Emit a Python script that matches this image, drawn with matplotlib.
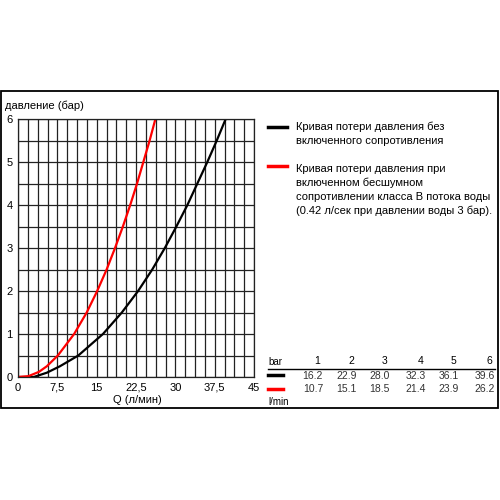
import matplotlib.pyplot as plt
from matplotlib.lines import Line2D
from matplotlib.patches import Rectangle

plt.rcParams['font.family'] = ['Liberation Sans', 'DejaVu Sans']

# values (Q in l/min, p in bar)
q_black = [0, 3.0, 5.5, 8.0, 11.5, 16.2, 19.8, 22.9, 25.6, 28.0, 30.2, 32.3, 34.2, 36.1, 37.9, 39.6]
p_black = [0, 0.0, 0.1, 0.25, 0.5, 1.0, 1.5, 2.0, 2.5, 3.0, 3.5, 4.0, 4.5, 5.0, 5.5, 6.0]
q_red = [0, 2.0, 4.0, 5.5, 7.6, 10.7, 13.1, 15.1, 16.9, 18.5, 20.0, 21.4, 22.7, 23.9, 25.1, 26.2]
p_red = [0, 0.02, 0.12, 0.25, 0.5, 1.0, 1.5, 2.0, 2.5, 3.0, 3.5, 4.0, 4.5, 5.0, 5.5, 6.0]

bars = ['1', '2', '3', '4', '5', '6']
flow_black = ['16.2', '22.9', '28.0', '32.3', '36.1', '39.6']
flow_red = ['10.7', '15.1', '18.5', '21.4', '23.9', '26.2']

xticks = [0, 7.5, 15, 22.5, 30, 37.5, 45]
xlabels = ['0', '7,5', '15', '22,5', '30', '37,5', '45']

W = H = 500.0
def fx(x):
    return x / W
def fy(y):
    return 1 - y / H

fig = plt.figure(figsize=(5, 5), dpi=100)
ax = fig.add_axes([fx(18), fy(377), (254 - 18) / W, (377 - 119) / H])

ax.plot(q_black, p_black, color='black', lw=1.6)
ax.plot(q_red, p_red, color='#ff0000', lw=1.6)

ax.set_xlim(0, 45)
ax.set_ylim(0, 6)
for i in range(25):
    ax.axvline(i * 1.875, color='#222222', lw=0.9, zorder=0)
for i in range(13):
    ax.axhline(i * 0.5, color='#222222', lw=0.9, zorder=0)
for s in ax.spines.values():
    s.set_color('#222222')
    s.set_linewidth(0.9)
ax.set_xticks(xticks)
ax.set_xticklabels(xlabels)
ax.set_yticks(range(7))
ax.tick_params(length=0, labelsize=8, pad=4)

fig.text(fx(5), fy(106), 'давление (бар)', fontsize=8, va='center')
fig.text(fx(137), fy(400), 'Q (л/мин)', fontsize=8, va='center', ha='center')

# outer frame
fig.add_artist(Rectangle((fx(1), fy(408)), fx(497), (408 - 91) / H,
                         fill=False, ec='black', lw=1.3, transform=fig.transFigure))

# legend
fig.add_artist(Line2D([fx(268), fx(287)], [fy(127), fy(127)], color='black', lw=2.5))
fig.add_artist(Line2D([fx(268), fx(287)], [fy(166), fy(166)], color='#ff0000', lw=2.5))
fig.text(fx(296), fy(134), 'Кривая потери давления без\nвключенного сопротивления',
         fontsize=8, va='center', linespacing=1.45)
fig.text(fx(296), fy(190),
         'Кривая потери давления при\nвключенном бесшумном\n'
         'сопротивлении класса B потока воды\n(0.42 л/сек при давлении воды 3 бар).',
         fontsize=8, va='center', linespacing=1.45)

# table
col_x = [323, 357, 390, 426, 459, 495]
fig.text(fx(268), fy(362), 'bar', fontsize=7, va='center')
fig.add_artist(Line2D([fx(268), fx(495)], [fy(369), fy(369)], color='black', lw=1.0))
fig.add_artist(Line2D([fx(268), fx(283)], [fy(375), fy(375)], color='black', lw=2.5))
fig.add_artist(Line2D([fx(268), fx(283)], [fy(389), fy(389)], color='#ff0000', lw=2.5))
for x, b, vb, vr in zip(col_x, bars, flow_black, flow_red):
    fig.text(fx(x - 3), fy(361), b, fontsize=7.5, va='center', ha='right')
    fig.text(fx(x), fy(376), vb, fontsize=7.5, va='center', ha='right', color='#333333')
    fig.text(fx(x), fy(389), vr, fontsize=7.5, va='center', ha='right', color='#333333')
fig.text(fx(268), fy(402), 'l/min', fontsize=7, va='center')

fig.savefig('out.png', dpi=100)
